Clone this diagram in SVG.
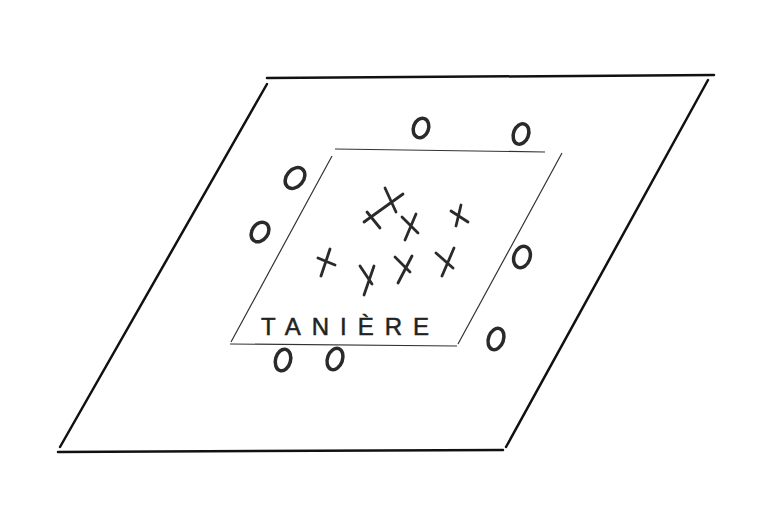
<svg xmlns="http://www.w3.org/2000/svg" width="774" height="516" viewBox="0 0 774 516">
<style>
.outer{fill:none;stroke:#111;stroke-width:2.5;stroke-linecap:round}
.inner{fill:none;stroke:#333;stroke-width:1.2}
.o{fill:none;stroke:#2a2a2a;stroke-width:3.5}
.x{fill:none;stroke:#2a2a2a;stroke-width:2.8;stroke-linecap:round}
.lbl{font-family:"Liberation Sans",Arial,sans-serif;font-size:24px;fill:#222;stroke:#222;stroke-width:0.5}
</style>
<rect width="774" height="516" fill="#fff"/>
<g id="terrain">
<path class="outer" d="M267,78 L714,75 M267,84 L60,447 M58,452 L503,450 M708,80 L506,447"/>
</g>
<g id="taniere">
<path class="inner" d="M335,149 L545,152 M562,153 L458,344 M230,344 L457,346 M332,156 L231,342"/>
<text class="lbl" x="261" y="335" textLength="168" lengthAdjust="spacing">TANIÈRE</text>
</g>
<g id="hunters">
<ellipse class="o" cx="421" cy="128" rx="7.5" ry="10" transform="rotate(20 421 128)"/>
<ellipse class="o" cx="521" cy="134" rx="7.5" ry="10.5" transform="rotate(20 521 134)"/>
<ellipse class="o" cx="295" cy="178" rx="8.5" ry="11.5" transform="rotate(40 295 178)"/>
<ellipse class="o" cx="260" cy="232" rx="8" ry="10.5" transform="rotate(35 260 232)"/>
<ellipse class="o" cx="522" cy="257" rx="8" ry="11" transform="rotate(20 522 257)"/>
<ellipse class="o" cx="496" cy="339" rx="7.5" ry="11" transform="rotate(20 496 339)"/>
<ellipse class="o" cx="283" cy="360" rx="7.5" ry="11" transform="rotate(15 283 360)"/>
<ellipse class="o" cx="335" cy="359" rx="7.5" ry="11" transform="rotate(20 335 359)"/>
</g>
<g id="animals">
<path class="x" d="M385,188 L396,212 M364,222 L403,194"/>
<path class="x" d="M367,212 L380,228"/>
<path class="x" d="M402,217 L418,233 M416,214 L405,240"/>
<path class="x" d="M451,211 L468,222 M461,205 L456,226"/>
<path class="x" d="M318,258 L335,265 M330,249 L321,276"/>
<path class="x" d="M360,266 L372,284 M374,266 L364,295"/>
<path class="x" d="M395,257 L410,272 M412,256 L398,283"/>
<path class="x" d="M436,253 L453,268 M454,248 L442,276"/>
</g>
</svg>
